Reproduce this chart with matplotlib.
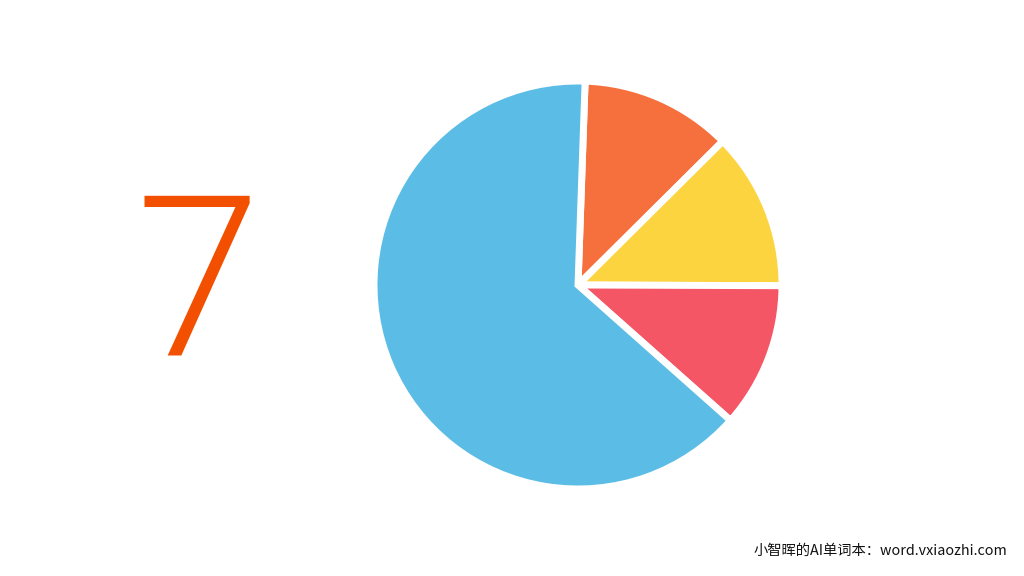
import matplotlib
matplotlib.use('Agg')
import matplotlib.pyplot as plt

## data
labels = ['orange', 'yellow', 'red', 'blue']
values = [12, 12.5, 11.5, 64]
colors = ['#F6703E', '#FBD440', '#F45665', '#5BBDE6']

big_number = '7'
watermark = '小智晖的AI单词本：word.vxiaozhi.com'

## figure
fig = plt.figure(figsize=(10.24, 5.76), dpi=100)
fig.patch.set_facecolor('white')

# pie axes, square in pixels
ax = fig.add_axes([374/1024, 87/576, 408/1024, 408/576])
ax.pie(values, colors=colors, startangle=88, counterclock=False,
       wedgeprops={'edgecolor': 'white', 'linewidth': 5, 'joinstyle': 'miter'})
ax.set_xlim(-1.0, 1.0)
ax.set_ylim(-1.0, 1.0)
ax.set_aspect('equal')
ax.axis('off')

# big number on the left
fig.text(198/1024, 1 - 294/576, big_number, color='#F25000', fontsize=162,
         family='Roboto', fontweight=300, ha='center', va='center')

# watermark
fig.text(1007/1024, 1 - 551/576, watermark, color='#111111', fontsize=10.3,
         family=['Noto Sans CJK SC', 'DejaVu Sans'], ha='right', va='center')

fig.savefig('out.png', dpi=100, facecolor='white')
